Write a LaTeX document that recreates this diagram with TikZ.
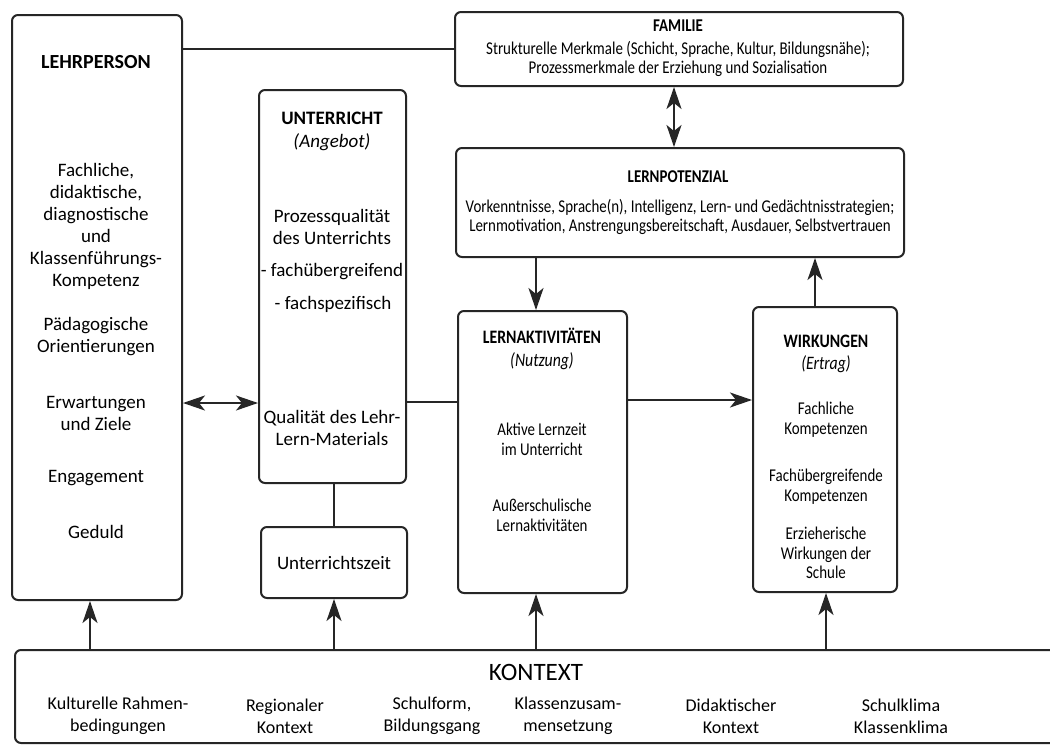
\documentclass[tikz,border=0pt]{standalone}
\usepackage{fontspec}
\setsansfont{Carlito}
\newfontfamily\narrowfont[FakeStretch=0.83]{Carlito}
\usetikzlibrary{arrows.meta}

\begin{document}
\begin{tikzpicture}[x=0.5pt,y=-0.5pt,line width=1pt,
		block node/.style={draw=black!85,rounded corners=3pt,inner sep=0pt},
		main text/.style={font=\sffamily\fontsize{9.5}{11}\selectfont,align=center,inner sep=0pt},
		narrow text/.style={font=\narrowfont\fontsize{9}{9.8}\selectfont,align=center,inner sep=0pt},
		one way/.style={draw=black!85,-{Stealth[length=11pt,width=7.5pt,inset=3pt]}},
		two way/.style={draw=black!85,{Stealth[length=11pt,width=7.5pt,inset=3pt]}-{Stealth[length=11pt,width=7.5pt,inset=3pt]}}]
		
		\fill[white] (0,0) rectangle (1050,745);
		\useasboundingbox (0,0) rectangle (1050,745);
		
		% boxes
		\node[block node,minimum width=85pt,minimum height=292.5pt] (lehr) at (97,307.5) {};
		\node[block node,minimum width=224pt,minimum height=37pt] (fam) at (679,49) {};
		\node[block node,minimum width=73.5pt,minimum height=196.5pt] (unt) at (332.5,286.5) {};
		\node[block node,main text,minimum width=73pt,minimum height=35.5pt] (zeit) at (334,562.5) {Unterrichtszeit};
		\node[block node,minimum width=224pt,minimum height=54.5pt] (pot) at (680,202.5) {};
		\node[block node,minimum width=84.5pt,minimum height=141pt] (akt) at (542.5,452) {};
		\node[block node,minimum width=72pt,minimum height=142.5pt] (wirk) at (825,449.5) {};
		\node[block node,minimum width=532.5pt,minimum height=46.5pt] (kon) at (547.5,696.5) {};
		
		% Lehrperson
		\node[main text,font=\sffamily\bfseries\fontsize{10}{11}\selectfont] (lehr-h) at (96,62) {LEHRPERSON};
		\node[main text] (lehr-a) at (96,226) {Fachliche,\\didaktische,\\diagnostische\\und\\Klassenführungs-\\Kompetenz};
		\node[main text] (lehr-b) at (96,337) {Pädagogische\\Orientierungen};
		\node[main text] (lehr-c) at (96,413) {Erwartungen\\und Ziele};
		\node[main text] (lehr-d) at (96,478) {Engagement};
		\node[main text] (lehr-e) at (96,532) {Geduld};
		
		% Unterricht
		\node[main text,font=\sffamily\fontsize{9.5}{11.5}\selectfont] (unt-h) at (332,131.5) {\textbf{UNTERRICHT}\\\textit{(Angebot)}};
		\node[main text] (unt-a) at (332,226.5) {Prozessqualität\\des Unterrichts};
		\node[main text] (unt-b) at (332,272) {- fachübergreifend};
		\node[main text] (unt-c) at (333,304) {- fachspezifisch};
		\node[main text] (unt-d) at (332,427.5) {Qualität des Lehr-\\Lern-Materials};
		
		% Familie, Lernpotenzial
		\node[narrow text] (fam-t) at (678,48.5) {\textbf{FAMILIE}\\[1.5pt]Strukturelle Merkmale (Schicht, Sprache, Kultur, Bildungsnähe);\\Prozessmerkmale der Erziehung und Sozialisation};
		\node[narrow text,font=\narrowfont\bfseries\fontsize{9}{9.8}\selectfont] (pot-h) at (678,177) {LERNPOTENZIAL};
		\node[narrow text] (pot-t) at (680,217) {Vorkenntnisse, Sprache(n), Intelligenz, Lern- und Gedächtnisstrategien;\\Lernmotivation, Anstrengungsbereitschaft, Ausdauer, Selbstvertrauen};
		
		% Lernaktivitaeten
		\node[narrow text,font=\narrowfont\fontsize{9.5}{11.5}\selectfont] (akt-h) at (542,348.5) {\textbf{LERNAKTIVITÄTEN}\\\textit{(Nutzung)}};
		\node[narrow text] (akt-a) at (542,439.5) {Aktive Lernzeit\\im Unterricht};
		\node[narrow text] (akt-b) at (542,515.5) {Außerschulische\\Lernaktivitäten};
		
		% Wirkungen
		\node[narrow text,font=\narrowfont\fontsize{9.5}{11}\selectfont] (wirk-h) at (826,354) {\textbf{WIRKUNGEN}\\\textit{(Ertrag)}};
		\node[narrow text] (wirk-a) at (826,419.5) {Fachliche\\Kompetenzen};
		\node[narrow text] (wirk-b) at (826,486.5) {Fachübergreifende\\Kompetenzen};
		\node[narrow text] (wirk-c) at (826,553) {Erzieherische\\Wirkungen der\\Schule};
		
		% Kontext
		\node[main text,font=\sffamily\fontsize{12.5}{14}\selectfont] (kon-h) at (536,672) {KONTEXT};
		\node[main text,font=\sffamily\fontsize{9}{11}\selectfont] (kon-a) at (118,716) {Kulturelle Rahmen-\\bedingungen};
		\node[main text,font=\sffamily\fontsize{9}{11}\selectfont] (kon-b) at (285,716) {Regionaler\\Kontext};
		\node[main text,font=\sffamily\fontsize{9}{11}\selectfont] (kon-c) at (432,716) {Schulform,\\Bildungsgang};
		\node[main text,font=\sffamily\fontsize{9}{11}\selectfont] (kon-d) at (568,716) {Klassenzusam-\\mensetzung};
		\node[main text,font=\sffamily\fontsize{9}{11}\selectfont] (kon-e) at (731,716) {Didaktischer\\Kontext};
		\node[main text,font=\sffamily\fontsize{9}{11}\selectfont] (kon-f) at (901,716) {Schulklima\\Klassenklima};
		
		% connectors
		\draw[draw=black!85] (lehr.east |- fam.west) -- (fam.west);
		\draw[two way] (lehr.east |- 0,403) -- (unt.west |- 0,403);
		\draw[draw=black!85] (unt.south -| zeit.north) -- (zeit.north);
		\draw[draw=black!85] (unt.east |- 0,402) -- (akt.west |- 0,402);
		\draw[one way] (akt.east |- 0,400) -- (wirk.west |- 0,400);
		\draw[two way] (fam.south -| 674,0) -- (pot.north -| 674,0);
		\draw[one way] (pot.south -| 536,0) -- (akt.north -| 536,0);
		\draw[one way] (wirk.north -| 815,0) -- (pot.south -| 815,0);
		\foreach \x/\n in {90/lehr,334/zeit,536/akt,826/wirk}
		\draw[one way] (kon.north -| \x,0) -- (\n.south -| \x,0);
\end{tikzpicture}
\end{document}
